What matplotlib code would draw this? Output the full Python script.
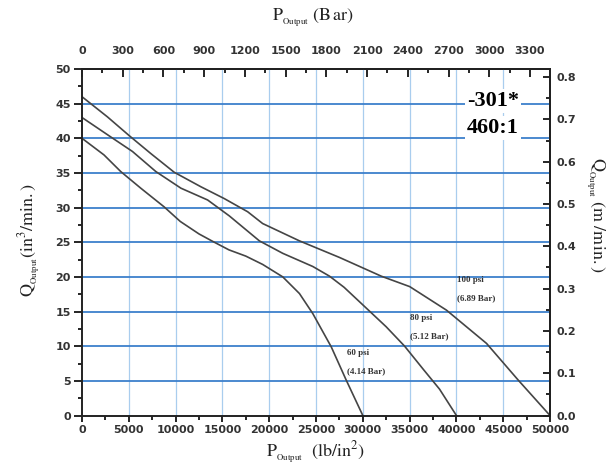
import matplotlib
matplotlib.use("Agg")
import matplotlib.pyplot as plt
from matplotlib.ticker import MultipleLocator, FormatStrFormatter

plt.rcParams['mathtext.fontset'] = 'stix'

# flow vs. output pressure for three inlet air pressures
psi_60 = [0, 2350, 4140, 6280, 8780, 10500, 12500, 14000, 15700, 17500, 19300,
          21450, 23230, 24660, 26630, 28230, 30000]
q_60 = [40.0, 37.6, 35.2, 32.8, 30.1, 28.0, 26.2, 25.1, 23.9, 23.0, 21.8,
        20.0, 17.6, 14.7, 9.9, 5.1, 0.0]

psi_80 = [0, 3070, 5390, 7890, 10570, 13420, 15740, 18950, 21450, 24660, 26450,
          28000, 30370, 32500, 34470, 36500, 38200, 40000]
q_80 = [43.0, 40.2, 38.1, 35.2, 32.8, 31.1, 28.8, 25.2, 23.4, 21.5, 20.1,
        18.5, 15.5, 12.8, 10.0, 6.6, 3.8, 0.0]

psi_100 = [0, 2710, 5030, 7350, 9850, 12710, 15200, 17700, 19300, 23230, 27520,
           31980, 35010, 38940, 43220, 46610, 50000]
q_100 = [46.0, 43.1, 40.4, 37.8, 35.1, 33.0, 31.3, 29.4, 27.7, 25.2, 22.8,
         20.1, 18.6, 15.2, 10.4, 5.1, 0.0]

curve_labels = [('60 psi', '(4.14 Bar)'), ('80 psi', '(5.12 Bar)'), ('100 psi', '(6.89 Bar)')]
label_x = [28300, 35000, 40100]
label_y = [9.0, 14.1, 19.6]

PSI_PER_BAR = 14.5038
L_PER_IN3 = 0.016387

fig = plt.figure(figsize=(6.08, 4.66), dpi=100)
W, H = 608, 466
ax = fig.add_axes([82 / W, 1 - 415.5 / H, (550 - 82) / W, (415.5 - 69) / H])
ax.set_xlim(0, 50000)
ax.set_ylim(0, 50)

# grid: light vertical lines, stronger horizontal lines
for x in range(5000, 50000, 5000):
    ax.axvline(x, color='#a9cdee', lw=0.9, zorder=1)
for y in range(5, 50, 5):
    ax.axhline(y, color='#3d80cc', lw=1.3, zorder=1)

for xs, ys in [(psi_60, q_60), (psi_80, q_80), (psi_100, q_100)]:
    ax.plot(xs, ys, color='#454545', lw=1.2, zorder=3)

for (l1, l2), lx, ly in zip(curve_labels, label_x, label_y):
    ax.text(lx, ly, l1, fontsize=6.5, fontweight='bold', family='Liberation Serif',
            color='#333333', va='center', ha='left', zorder=4)
    ax.text(lx, ly - 2.6, l2, fontsize=6.5, fontweight='bold', family='Liberation Serif',
            color='#333333', va='center', ha='left', zorder=4)

box = dict(facecolor='white', edgecolor='none', pad=1.5)
ax.text(43900, 45.4, '-301*', fontsize=16, fontweight='bold', family='Liberation Serif',
        ha='center', va='center', bbox=box, zorder=4)
ax.text(43900, 41.5, '460:1', fontsize=16, fontweight='bold', family='Liberation Serif',
        ha='center', va='center', bbox=box, zorder=4)

for s in ax.spines.values():
    s.set_linewidth(1.4)
    s.set_color('#222222')
    s.set_zorder(5)

tick_font = dict(fontsize=8, fontweight='bold', color='#333333')

ax.xaxis.set_major_locator(MultipleLocator(5000))
ax.xaxis.set_minor_locator(MultipleLocator(2500))
ax.yaxis.set_major_locator(MultipleLocator(5))
ax.yaxis.set_minor_locator(MultipleLocator(2.5))
ax.tick_params(axis='x', which='major', direction='out', length=4, width=1.2, pad=3)
ax.tick_params(axis='x', which='minor', direction='out', length=3, width=1.2)
ax.tick_params(axis='y', which='major', direction='out', length=6, width=1.2, pad=2)
ax.tick_params(axis='y', which='minor', direction='out', length=3, width=1.2)
for lab in ax.get_xticklabels() + ax.get_yticklabels():
    lab.set(**tick_font)

# bar scale along the top
top = ax.secondary_xaxis('top', functions=(lambda p: p / PSI_PER_BAR, lambda b: b * PSI_PER_BAR))
top.xaxis.set_major_locator(MultipleLocator(300))
top.xaxis.set_minor_locator(MultipleLocator(150))
top.tick_params(which='major', direction='in', length=6, width=1.2, pad=9)
top.tick_params(which='minor', direction='in', length=3, width=1.2)
top.spines['top'].set_linewidth(1.4)
for lab in top.get_xticklabels():
    lab.set(**tick_font)

# litre scale on the right
right = ax.secondary_yaxis('right', functions=(lambda q: q * L_PER_IN3, lambda l: l / L_PER_IN3))
right.yaxis.set_major_locator(MultipleLocator(0.1))
right.yaxis.set_minor_locator(MultipleLocator(0.05))
right.yaxis.set_major_formatter(FormatStrFormatter('%.1f'))
right.tick_params(which='major', direction='in', length=5, width=1.2, pad=5)
right.tick_params(which='minor', direction='in', length=3, width=1.2)
right.spines['right'].set_linewidth(1.4)
for lab in right.get_yticklabels():
    lab.set(**tick_font)

lbl = dict(fontsize=13, color='#222222', ha='center', va='center')
fig.text(313 / W, 1 - 18 / H, r'$\mathrm{P_{_{Output}}\ (B\,ar)}$', **lbl)
fig.text(315 / W, 1 - 453 / H, r'$\mathrm{P_{_{Output}}\ \ (lb/in^{2})}$', **lbl)
fig.text(30 / W, 1 - 240 / H, r'$\mathrm{Q_{_{Output}}(in^{3}/min.)}$', rotation=90, **lbl)
fig.text(595 / W, 1 - 215 / H, r'$\mathrm{Q_{_{Output}}\ (m\ /min.)}$', rotation=-90, **lbl)

fig.savefig('out.png', dpi=100)
